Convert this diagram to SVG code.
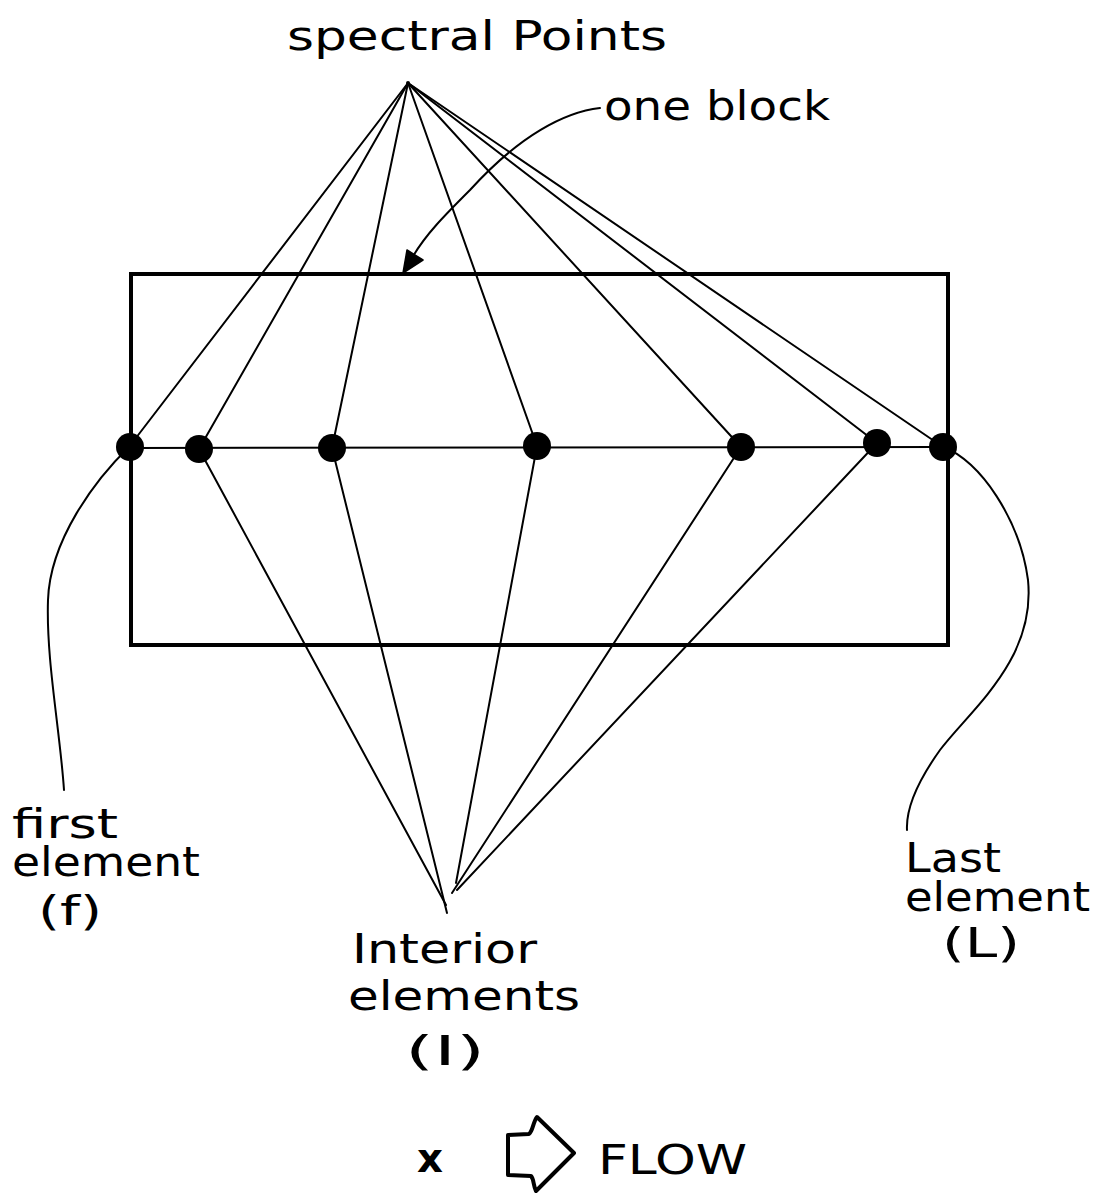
<svg xmlns="http://www.w3.org/2000/svg" width="1097" height="1195" viewBox="0 0 1097 1195">
<style>
.ln{stroke:#000;stroke-width:2;fill:none;stroke-linecap:round}
.bx{stroke:#000;stroke-width:4;fill:none}
.dot{fill:#000}
.t{font-family:"DejaVu Sans","Liberation Sans",sans-serif;fill:#000;font-size:40px}
</style>
<g id="block"><rect class="bx" x="131" y="274" width="817" height="371"/></g>
<g id="connectors">
<line class="ln" x1="131" y1="448" x2="945" y2="447" stroke-width="3"/>
<line class="ln" x1="408" y1="83" x2="129" y2="447"/>
<line class="ln" x1="408" y1="83" x2="199" y2="449"/>
<line class="ln" x1="408" y1="83" x2="332" y2="448"/>
<line class="ln" x1="408" y1="83" x2="537" y2="446"/>
<line class="ln" x1="408" y1="83" x2="741" y2="447"/>
<line class="ln" x1="408" y1="83" x2="877" y2="443"/>
<line class="ln" x1="408" y1="83" x2="943" y2="447"/>
<line class="ln" x1="199" y1="449" x2="446" y2="905"/>
<line class="ln" x1="332" y1="448" x2="447" y2="913" stroke-width="2.5"/>
<line class="ln" x1="537" y1="446" x2="456" y2="883"/>
<line class="ln" x1="741" y1="447" x2="452" y2="893"/>
<line class="ln" x1="877" y1="443" x2="457" y2="890"/>
<path class="ln" d="M129,447 C95,480 50,540 48,600 C46,660 60,730 64,790"/>
<path class="ln" d="M943,447 C980,460 1020,520 1028,580 C1036,660 970,710 940,750 C915,785 906,810 907,830"/>
<path class="ln" d="M600,108 C565,112 520,135 470,190 C445,215 425,235 412,258" stroke-width="2.5"/>
<path d="M403,273 L407,250 L423,260 Z" fill="#000" stroke="#000" stroke-width="1.5" stroke-linejoin="round"/>
</g>
<g id="spectral-points"><circle class="dot" cx="408" cy="83" r="2"/></g>
<g id="dot-f"><circle class="dot" cx="130" cy="447" r="14"/></g>
<g id="dot-1"><circle class="dot" cx="199" cy="449" r="14"/></g>
<g id="dot-2"><circle class="dot" cx="332" cy="448" r="14"/></g>
<g id="dot-3"><circle class="dot" cx="537" cy="446" r="14"/></g>
<g id="dot-4"><circle class="dot" cx="741" cy="447" r="14"/></g>
<g id="dot-5"><circle class="dot" cx="877" cy="443" r="14"/></g>
<g id="dot-l"><circle class="dot" cx="943" cy="447" r="14"/></g>
<g id="labels">
<text class="t" x="287" y="50" font-size="42" textLength="380" lengthAdjust="spacingAndGlyphs">spectral Points</text>
<text class="t" x="604" y="120" textLength="226" lengthAdjust="spacingAndGlyphs" font-size="44">one block</text>
<text class="t"><tspan x="12" y="838" textLength="106" lengthAdjust="spacingAndGlyphs">first</tspan><tspan x="12" y="876" textLength="188" lengthAdjust="spacingAndGlyphs">element</tspan><tspan x="38" y="925" textLength="64" lengthAdjust="spacingAndGlyphs">(f)</tspan></text>
<text class="t"><tspan x="352" y="963" textLength="185" lengthAdjust="spacingAndGlyphs">Interior</tspan><tspan x="348" y="1010" textLength="232" lengthAdjust="spacingAndGlyphs">elements</tspan><tspan x="405" y="1065" textLength="80" lengthAdjust="spacingAndGlyphs">(I)</tspan></text>
<text class="t"><tspan x="905" y="872" textLength="96" lengthAdjust="spacingAndGlyphs">Last</tspan><tspan x="905" y="911" textLength="185" lengthAdjust="spacingAndGlyphs">element</tspan><tspan x="942" y="957" textLength="78" lengthAdjust="spacingAndGlyphs">(L)</tspan></text>
</g>
<g id="flow">
<text class="t" x="417" y="1172" font-size="52" font-weight="bold" textLength="26" lengthAdjust="spacingAndGlyphs">x</text>
<path d="M508,1135 L529,1134 C533,1131 533,1122 537,1117 L574,1153 L536,1191 C533,1185 534,1179 531,1176 L508,1175 Z" fill="none" stroke="#000" stroke-width="4" stroke-linejoin="round"/>
<text class="t" x="598" y="1174" font-size="39" textLength="149" lengthAdjust="spacingAndGlyphs">FLOW</text>
</g>
</svg>
